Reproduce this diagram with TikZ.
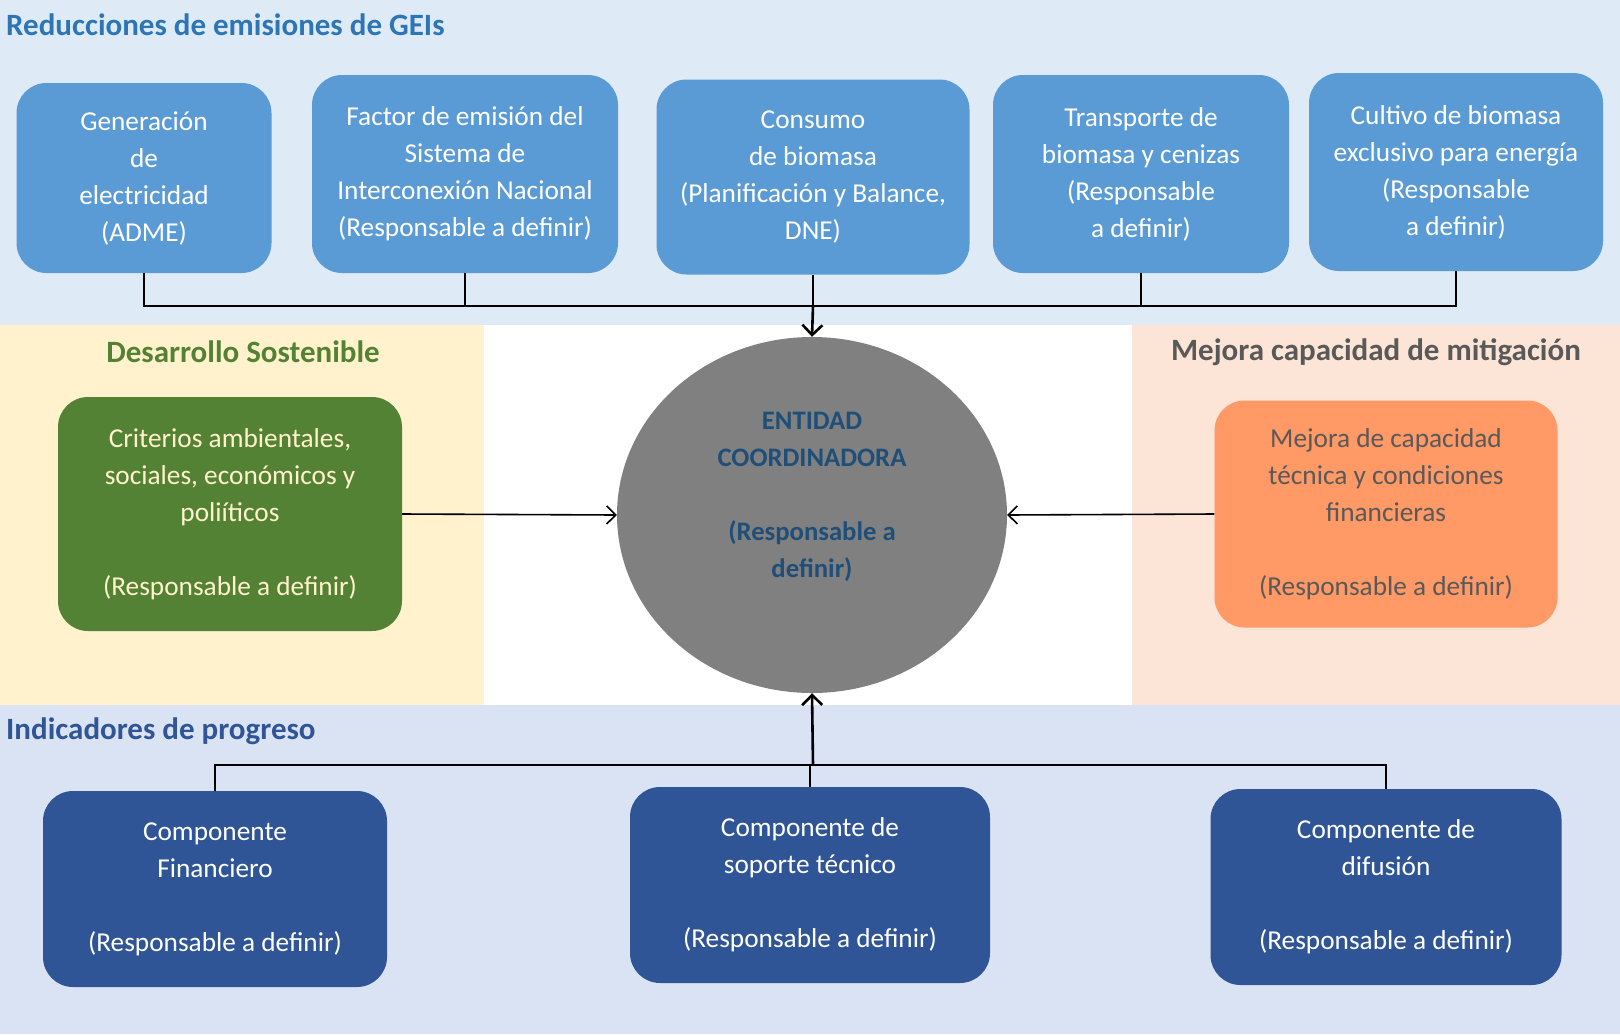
\documentclass[tikz,border=0pt]{standalone}
\usepackage{fontspec}
\setmainfont{Carlito}
\usetikzlibrary{shapes.geometric,arrows.meta}
\definecolor{bandtop}{HTML}{DEEBF7}
\definecolor{bandyel}{HTML}{FFF2CC}
\definecolor{bandpea}{HTML}{FCE4D6}
\definecolor{bandbot}{HTML}{DAE3F3}
\definecolor{boxtop}{HTML}{5B9BD5}
\definecolor{boxgreen}{HTML}{548235}
\definecolor{boxorange}{HTML}{FF9966}
\definecolor{boxbot}{HTML}{2F5597}
\definecolor{circgray}{HTML}{808080}
\definecolor{circtext}{HTML}{1F4E79}
\definecolor{ttlblue}{HTML}{2E75B6}
\definecolor{ttlgray}{HTML}{595959}
\definecolor{ttlbot}{HTML}{2F5597}
\begin{document}
\begin{tikzpicture}[x=1pt,y=-1pt,
  boxbase/.style={rectangle, rounded corners=30pt, inner sep=0pt, align=center,
    font=\fontsize{27.3}{37}\selectfont},
  topbox/.style={boxbase, fill=boxtop, text=white},
  greenbox/.style={boxbase, fill=boxgreen, text=bandyel},
  orangebox/.style={boxbase, fill=boxorange, text=ttlgray},
  botbox/.style={boxbase, fill=boxbot, text=white},
  bandtitle/.style={font=\fontsize{31}{37}\selectfont\bfseries, inner sep=0pt},
  conn/.style={draw=black, line width=1.8pt},
  sidearrow/.style={draw=black, line width=1.6pt, -{Straight Barb[length=9pt,width=18pt,line width=1.6pt]}},
  mainarrow/.style={draw=black, line width=2.6pt, -{Straight Barb[length=10pt,width=20pt,line width=2.6pt]}}
]
\useasboundingbox (0,0) rectangle (1620,1034);
% bands
\fill[bandtop] (0,0) rectangle (1620,325);
\fill[white] (0,325) rectangle (1620,705);
\fill[bandyel] (0,325) rectangle (484,705);
\fill[bandpea] (1132,325) rectangle (1620,705);
\fill[bandbot] (0,705) rectangle (1620,1034);
% band titles
\node[bandtitle, text=ttlblue, anchor=west] (t1) at (6,25) {Reducciones de emisiones de GEIs};
\node[bandtitle, text=boxgreen] (t2) at (243,352) {Desarrollo Sostenible};
\node[bandtitle, text=ttlgray] (t3) at (1376,352) {Mejora capacidad de mitigación};
\node[bandtitle, text=ttlbot, anchor=west] (t4) at (6,731) {Indicadores de progreso};
% top boxes
\node[topbox, minimum width=255pt, minimum height=190pt] (g1) at (144,178)
  {Generación\\de\\electricidad\\(ADME)};
\node[topbox, minimum width=306pt, minimum height=198pt] (g2) at (465,174)
  {Factor de emisión del\\Sistema de\\Interconexión Nacional\\(Responsable a definir)};
\node[topbox, minimum width=313pt, minimum height=195pt] (g3) at (813,177)
  {Consumo\\de biomasa\\(Planificación y Balance,\\DNE)};
\node[topbox, minimum width=296pt, minimum height=198pt] (g4) at (1141,174)
  {Transporte de\\biomasa y cenizas\\(Responsable\\a definir)};
\node[topbox, minimum width=294pt, minimum height=198pt] (g5) at (1456,172)
  {Cultivo de biomasa\\exclusivo para energía\\(Responsable\\a definir)};
% central entity
\node[ellipse, fill=circgray, minimum width=390pt, minimum height=356pt, inner sep=0pt] (ent) at (812,515) {};
\node[align=center, text=circtext, inner sep=0pt, font=\fontsize{26.7}{37}\selectfont\bfseries] (entt) at (812,497)
  {ENTIDAD\\COORDINADORA\\[37pt](Responsable a\\definir)};
% middle boxes
\node[greenbox, minimum width=344pt, minimum height=234pt] (crit) at (230,514)
  {Criterios ambientales,\\sociales, económicos y\\poliíticos\\[37pt](Responsable a definir)};
\node[orangebox, minimum width=343pt, minimum height=227pt] (mej) at (1386,514)
  {Mejora de capacidad\\técnica y condiciones\\financieras\\[37pt](Responsable a definir)};
% bottom boxes
\node[botbox, minimum width=344pt, minimum height=196pt] (b1) at (215,889)
  {Componente\\Financiero\\[37pt](Responsable a definir)};
\node[botbox, minimum width=360pt, minimum height=196pt] (b2) at (810,885)
  {Componente de\\soporte técnico\\[37pt](Responsable a definir)};
\node[botbox, minimum width=351pt, minimum height=196pt] (b3) at (1386,887)
  {Componente de\\difusión\\[37pt](Responsable a definir)};
% top connectors
\coordinate (hubT) at (813,306);
\draw[conn] (g1.south) -- (g1.south |- hubT) -- (g5.south |- hubT) -- (g5.south);
\draw[conn] (g2.south) -- (g2.south |- hubT);
\draw[conn] (g3.south) -- (g3.south |- hubT);
\draw[conn] (g4.south) -- (g4.south |- hubT);
\draw[mainarrow] (hubT) -- (ent.north);
% bottom connectors
\coordinate (hubB) at (813,765);
\draw[conn] (b1.north) -- (b1.north |- hubB) -- (b3.north |- hubB) -- (b3.north);
\draw[conn] (b2.north) -- (b2.north |- hubB);
\draw[mainarrow] (hubB) -- (ent.south);
% side arrows
\draw[sidearrow] (crit.east) -- (ent.west);
\draw[sidearrow] (mej.west) -- (ent.east);
\end{tikzpicture}
\end{document}
